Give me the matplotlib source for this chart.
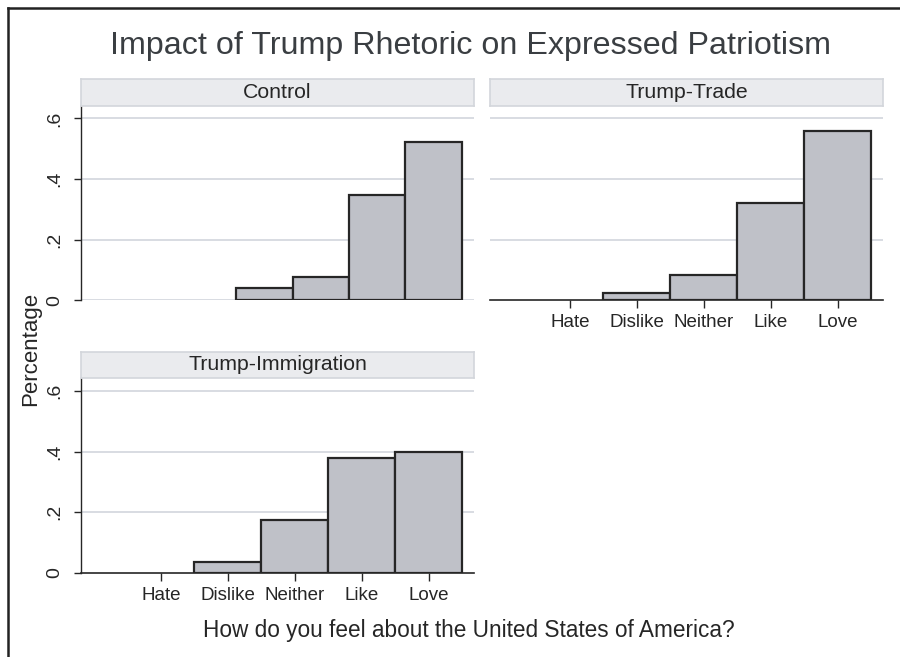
import numpy as np
import matplotlib
matplotlib.use("Agg")
import matplotlib.pyplot as plt
from matplotlib.lines import Line2D

plt.rcParams['font.family'] = ['Liberation Sans', 'DejaVu Sans']

categories = ['Hate', 'Dislike', 'Neither', 'Like', 'Love']
cat_pos = [1, 2, 3, 4, 5]

# Control panel: histogram bins (no Hate responses)
control_vals = [0.040, 0.078, 0.347, 0.521]
control_bin_start = 2.12
control_bin_width = 0.843

trade_vals = [0.0, 0.024, 0.083, 0.320, 0.557]
immig_vals = [0.0, 0.036, 0.175, 0.379, 0.398]

panel_titles = ['Control', 'Trump-Trade', 'Trump-Immigration']
yticks = [0, 0.2, 0.4, 0.6]
ytick_labels = ['0', '.2', '.4', '.6']

bar_fill = '#bfc1c8'
bar_edge = '#262626'
grid_col = '#d5d9df'
strip_fill = '#eaebee'
strip_edge = '#d3d6db'
text_col = '#262626'

W, H = 900, 657
fig = plt.figure(figsize=(9, 6.57), dpi=100)
fig.patch.set_facecolor('white')


def px_axes(left, top, right, bottom):
    return fig.add_axes([left / W, 1 - bottom / H, (right - left) / W, (bottom - top) / H])


def strip(left, top, right, bottom, label):
    sa = px_axes(left, top, right, bottom)
    sa.set_xticks([]); sa.set_yticks([])
    sa.set_facecolor(strip_fill)
    for s in sa.spines.values():
        s.set_color(strip_edge)
        s.set_linewidth(1.2)
    sa.text(0.5, 0.5, label, ha='center', va='center', fontsize=15.3,
            color=text_col, transform=sa.transAxes)


def setup(ax, left_axis, bottom_axis):
    ax.set_xlim(-0.194, 5.672)
    ax.set_ylim(0, 0.641)
    for s in ax.spines.values():
        s.set_visible(False)
    for y in yticks:
        if y == 0 and bottom_axis:
            continue
        ax.axhline(y, color=grid_col, lw=1.3, zorder=0)
    if left_axis:
        ax.spines['left'].set_visible(True)
        ax.spines['left'].set_color(text_col)
        ax.spines['left'].set_linewidth(1.0)
        ax.set_yticks(yticks)
        ax.set_yticklabels(ytick_labels, rotation=90, va='center', fontsize=14, color=text_col)
        ax.tick_params(axis='y', length=5, width=1, color=text_col, pad=8)
    else:
        ax.set_yticks([])
    if bottom_axis:
        ax.spines['bottom'].set_visible(True)
        ax.spines['bottom'].set_color(text_col)
        ax.spines['bottom'].set_linewidth(1.2)
        ax.set_xticks(cat_pos)
        ax.set_xticklabels(categories, fontsize=13.5, color=text_col)
        ax.tick_params(axis='x', length=6, width=1, color=text_col, pad=4)
    else:
        ax.set_xticks([])


def draw_bars(ax, pos, vals, width, align='center'):
    pos = np.asarray(pos, dtype=float)
    vals = np.asarray(vals, dtype=float)
    keep = vals > 0  # empty bins are not drawn
    ax.bar(pos[keep], vals[keep], width=width, align=align, color=bar_fill,
           edgecolor=bar_edge, linewidth=1.6, zorder=2)


# Panel 1: Control
ax1 = px_axes(81, 106, 474, 300.3)
setup(ax1, True, False)
edges = control_bin_start + control_bin_width * np.arange(len(control_vals))
draw_bars(ax1, edges, control_vals, control_bin_width, align='edge')
strip(81, 78.5, 474, 106, panel_titles[0])

# Panel 2: Trump-Trade
ax2 = px_axes(490, 106, 883, 300.3)
setup(ax2, False, True)
draw_bars(ax2, cat_pos, trade_vals, 1.0)
strip(490, 78.5, 883, 106, panel_titles[1])

# Panel 3: Trump-Immigration
ax3 = px_axes(81, 378.3, 474, 573)
setup(ax3, True, True)
draw_bars(ax3, cat_pos, immig_vals, 1.0)
strip(81, 351.7, 474, 378.3, panel_titles[2])

# titles and labels
fig.text(470 / W, 1 - 46 / H, 'Impact of Trump Rhetoric on Expressed Patriotism',
         ha='center', va='center', fontsize=23.2, color='#3a3e42')
fig.text(469 / W, 1 - 630 / H, 'How do you feel about the United States of America?',
         ha='center', va='center', fontsize=16.3, color=text_col)
fig.text(31 / W, 1 - 349 / H, 'Percentage', rotation=90,
         ha='center', va='center', fontsize=16, color=text_col)

# outer frame (top and left edges visible)
fig.add_artist(Line2D([8 / W, 8 / W], [0, 1 - 8 / H], transform=fig.transFigure,
                      color='#222222', lw=1.8))
fig.add_artist(Line2D([8 / W, 1], [1 - 8 / H, 1 - 8 / H], transform=fig.transFigure,
                      color='#222222', lw=1.8))

fig.savefig('out.png', dpi=100)
